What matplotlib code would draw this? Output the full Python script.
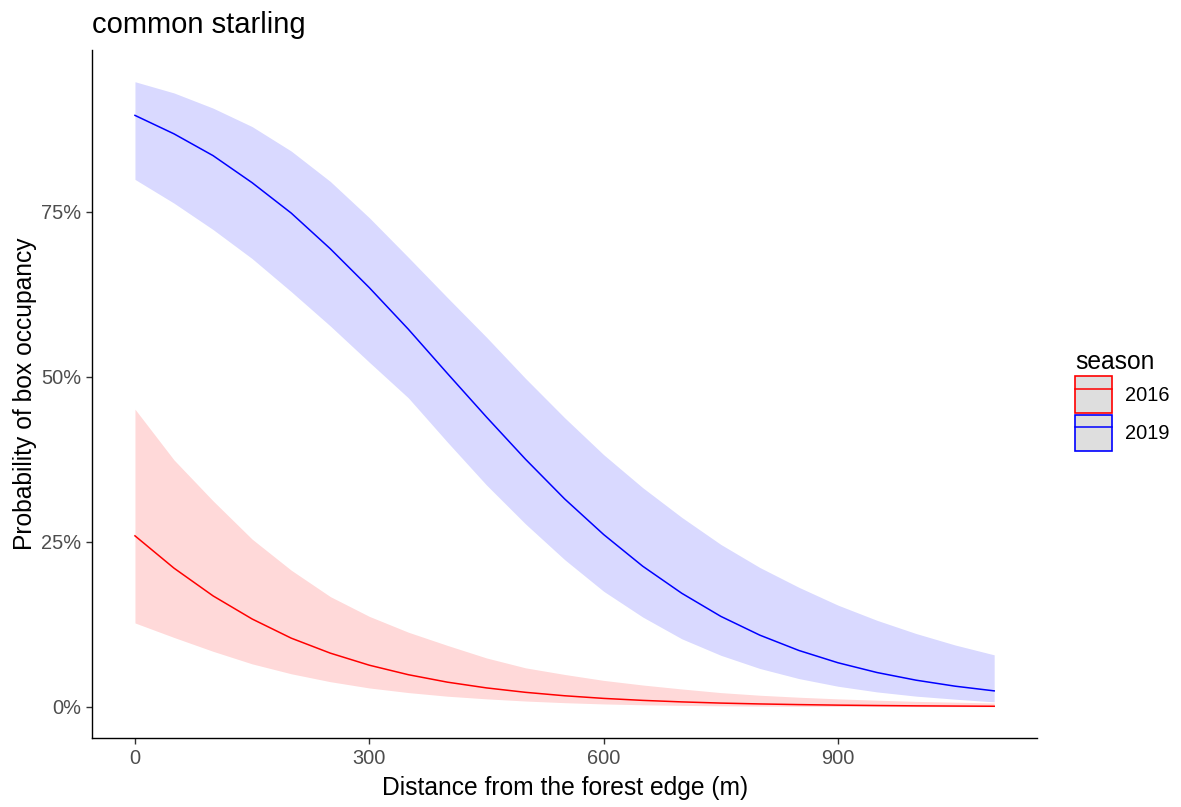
import numpy as np
import matplotlib
matplotlib.use('Agg')
import matplotlib.pyplot as plt
from matplotlib.patches import Patch
from matplotlib.lines import Line2D

plt.rcParams['font.family'] = ['Liberation Sans', 'DejaVu Sans']

# distance from forest edge (m)
distance = [0, 50, 100, 150, 200, 250, 300, 350, 400, 450, 500, 550,
            600, 650, 700, 750, 800, 850, 900, 950, 1000, 1050, 1100]

# 2019 season (percent)
fit_2019 = [89.6, 86.8, 83.5, 79.4, 74.8, 69.4, 63.5, 57.2, 50.5, 43.9, 37.5, 31.5,
            26.1, 21.3, 17.2, 13.7, 10.85, 8.53, 6.67, 5.19, 4.03, 3.12, 2.41]
hi_2019 = [94.7, 93.0, 90.7, 87.9, 84.2, 79.6, 74.1, 68.1, 62.0, 56.0, 49.75, 43.8,
           38.2, 33.2, 28.7, 24.6, 21.1, 18.1, 15.4, 13.1, 11.1, 9.36, 7.87]
lo_2019 = [79.9, 76.3, 72.3, 67.9, 62.9, 57.7, 52.2, 46.8, 40.1, 33.6, 27.7, 22.3,
           17.5, 13.6, 10.3, 7.8, 5.8, 4.27, 3.11, 2.25, 1.61, 1.15, 0.74]

# 2016 season (percent)
fit_2016 = [25.9, 21.0, 16.8, 13.3, 10.4, 8.13, 6.30, 4.86, 3.73, 2.86, 2.19, 1.67,
            1.27, 0.97, 0.74, 0.56, 0.43, 0.33, 0.25, 0.19, 0.14, 0.11, 0.08]
hi_2016 = [45.1, 37.4, 31.2, 25.4, 20.7, 16.7, 13.7, 11.3, 9.3, 7.4, 5.9, 4.9,
           4.0, 3.3, 2.7, 2.15, 1.75, 1.45, 1.2, 1.0, 0.82, 0.7, 0.58]
lo_2016 = [12.7, 10.5, 8.4, 6.5, 5.0, 3.8, 2.85, 2.15, 1.6, 1.2, 0.87, 0.62,
           0.43, 0.3, 0.21, 0.14, 0.1, 0.07, 0.05, 0.03, 0.02, 0.015, 0.01]

y_ticks = [0, 25, 50, 75]
x_ticks = [0, 300, 600, 900]

fig = plt.figure(figsize=(11.81, 8.07), dpi=100)
ax = fig.add_axes([0.0779, 0.0855, 0.8003, 0.8525])

ax.fill_between(distance, lo_2016, hi_2016, color='red', alpha=0.15, linewidth=0)
ax.fill_between(distance, lo_2019, hi_2019, color='blue', alpha=0.15, linewidth=0)
ax.plot(distance, fit_2016, color='red', lw=1.1)
ax.plot(distance, fit_2019, color='blue', lw=1.1)

ax.set_xlim(-55, 1155)
ax.set_ylim(-4.73, 99.5)
ax.set_xticks(x_ticks)
ax.set_xticklabels([str(v) for v in x_ticks])
ax.set_yticks(y_ticks)
ax.set_yticklabels(['%d%%' % v for v in y_ticks])

for s in ['top', 'right']:
    ax.spines[s].set_visible(False)
for s in ['left', 'bottom']:
    ax.spines[s].set_color('black')
    ax.spines[s].set_linewidth(1.0)
ax.tick_params(axis='both', length=4.5, width=1.0, color='#333333',
               labelcolor='#4D4D4D', labelsize=14.4, pad=3.5)

ax.set_xlabel('Distance from the forest edge (m)', fontsize=17.7, labelpad=6)
ax.set_ylabel('Probability of box occupancy', fontsize=17.7, labelpad=3)
ax.set_title('common starling', loc='left', fontsize=21, pad=12)

handles = [
    (Patch(facecolor='#DEDEDE', edgecolor='red', linewidth=1.2),
     Line2D([], [], color='red', lw=1.1)),
    (Patch(facecolor='#DEDEDE', edgecolor='blue', linewidth=1.2),
     Line2D([], [], color='blue', lw=1.1)),
]
leg = fig.legend(handles, ['2016', '2019'], title='season',
                 loc='upper left', bbox_to_anchor=(1075 / 1181, 1 - 350 / 807),
                 frameon=False, fontsize=14.4, title_fontsize=17.7,
                 handlelength=1.85, handleheight=2.4, labelspacing=0.12,
                 handletextpad=0.65, borderpad=0, borderaxespad=0,
                 alignment='left')

fig.savefig('out.png', dpi=100)
